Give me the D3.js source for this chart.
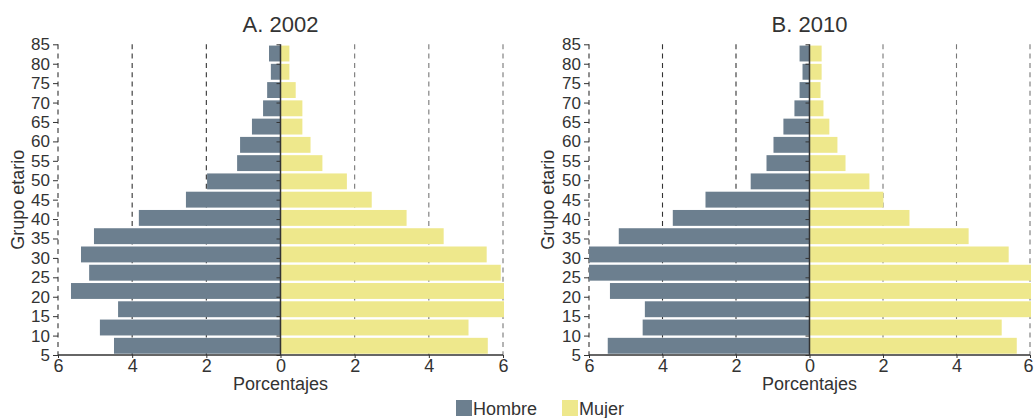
<!DOCTYPE html>
<html><head><meta charset="utf-8">
<script src="https://cdn.jsdelivr.net/npm/d3@7"></script>
<style>
body{margin:0;background:#fff;}
text{font-family:"Liberation Sans",Arial,sans-serif;fill:#333;}
</style></head>
<body><svg id="c" width="1034" height="418"></svg>
<script>
// Age groups, bottom to top
const ageGroups = ["0-4","5-9","10-14","15-19","20-24","25-29","30-34","35-39","40-44","45-49","50-54","55-59","60-64","65-69","70-74","75-79","80+"];
const yTicks = [5,10,15,20,25,30,35,40,45,50,55,60,65,70,75,80,85];
const xTicks = [-6,-4,-2,0,2,4,6];
const gridTicks = [-6,-4,-2,2,4,6];
const hombre2002 = [4.49,4.87,4.38,5.65,5.16,5.38,5.03,3.82,2.55,1.98,1.17,1.09,0.77,0.47,0.36,0.26,0.31];
const mujer2002  = [5.59,5.07,6.20,6.20,5.94,5.56,4.40,3.40,2.46,1.79,1.13,0.81,0.59,0.59,0.41,0.24,0.24];
const hombre2010 = [5.49,4.54,4.48,5.43,6.20,6.20,5.19,3.72,2.83,1.60,1.17,0.98,0.71,0.41,0.27,0.19,0.27];
const mujer2010  = [5.64,5.23,6.10,6.10,6.10,5.42,4.33,2.72,2.01,1.63,0.98,0.76,0.54,0.38,0.30,0.33,0.33];
const panelTitles = ["A. 2002","B. 2010"];
const legendLabels = ["Hombre","Mujer"];
const colors = {Hombre:"#6c7f8f", Mujer:"#eee88c"};

const svg = d3.select("#c");
const yTop = 44.3, yBottom = 355;

const panels = [
  {title:panelTitles[0], h:hombre2002, m:mujer2002, x0:58, x1:503, ylabX:18},
  {title:panelTitles[1], h:hombre2010, m:mujer2010, x0:589, x1:1030, ylabX:548}
];

panels.forEach((p,pi)=>{
  const g = svg.append("g");
  const x = d3.scaleLinear().domain([-6,6]).range([p.x0,p.x1]);
  const y = d3.scaleLinear().domain([5,85]).range([yBottom,yTop]);
  const yb = d3.scaleBand().domain(ageGroups.slice().reverse()).range([yTop,yBottom]).paddingInner(0.13).paddingOuter(0.07);

  const cid = "clip"+pi;
  svg.append("clipPath").attr("id",cid).append("rect")
    .attr("x",p.x0).attr("y",yTop-2).attr("width",p.x1-p.x0+1).attr("height",yBottom-yTop+4);

  // gridlines
  g.selectAll(".grid").data(gridTicks).join("line")
    .attr("x1",d=>x(d)).attr("x2",d=>x(d)).attr("y1",yTop).attr("y2",yBottom)
    .attr("stroke",d=>d>0?"#777":"#333").attr("stroke-width",1.1).attr("stroke-dasharray","5,4.3");

  const bars = g.append("g").attr("clip-path",`url(#${cid})`);
  bars.selectAll(".h").data(p.h).join("rect")
    .attr("x",d=>x(-d)).attr("width",d=>x(0)-x(-d))
    .attr("y",(d,i)=>yb(ageGroups[i])).attr("height",yb.bandwidth())
    .attr("fill",colors.Hombre);
  bars.selectAll(".m").data(p.m).join("rect")
    .attr("x",x(0)).attr("width",d=>x(d)-x(0))
    .attr("y",(d,i)=>yb(ageGroups[i])).attr("height",yb.bandwidth())
    .attr("fill",colors.Mujer);

  // y axis (left) ticks + labels
  const ya = g.append("g").attr("transform",`translate(${p.x0},0)`)
    .call(d3.axisLeft(y).tickValues(yTicks).tickSize(5).tickPadding(3));
  ya.select(".domain").remove();
  ya.selectAll("line").attr("stroke","#333");
  ya.selectAll("text").style("font-size","17px").attr("fill","#333");

  // ticks at zero line
  const yz = g.append("g").attr("transform",`translate(${x(0)},0)`)
    .call(d3.axisLeft(y).tickValues(yTicks).tickSize(4).tickFormat(""));
  yz.select(".domain").remove();
  yz.selectAll("line").attr("stroke","#333");

  // zero line
  g.append("line").attr("x1",x(0)).attr("x2",x(0)).attr("y1",yTop).attr("y2",yBottom)
    .attr("stroke","#333").attr("stroke-width",1.5);

  // x axis
  const xa = g.append("g").attr("transform",`translate(0,${yBottom})`)
    .call(d3.axisBottom(x).tickValues(xTicks).tickSize(3).tickPadding(1).tickFormat(d=>Math.abs(d)));
  xa.select(".domain").attr("stroke","#333").attr("stroke-width",1.5).attr("d",`M${p.x0},0H${p.x1}`);
  xa.selectAll("line").attr("stroke","#333");
  xa.selectAll("text").style("font-size","18px").attr("fill","#333");
  // keep the right-most label inside the page
  xa.selectAll("text").filter(d=>x(d)+6>1034).attr("dx",-2);

  // x label
  g.append("text").attr("x",x(0)).attr("y",390).attr("text-anchor","middle")
    .style("font-size","18px").text("Porcentajes");
  // y label
  g.append("text").attr("transform",`translate(${p.ylabX+6},${(yTop+yBottom)/2}) rotate(-90)`)
    .attr("text-anchor","middle").style("font-size","18px").text("Grupo etario");
  // title
  g.append("text").attr("x",x(0)).attr("y",32).attr("text-anchor","middle")
    .style("font-size","22px").attr("fill","#222").text(p.title);
});

// legend
const leg = svg.append("g");
const legX = [456, 562];
legendLabels.forEach((l,i)=>{
  leg.append("rect").attr("x",legX[i]).attr("y",400).attr("width",16).attr("height",16).attr("fill",colors[l]);
  leg.append("text").attr("x",legX[i]+17).attr("y",415).style("font-size","18px").text(l);
});
</script></body></html>
